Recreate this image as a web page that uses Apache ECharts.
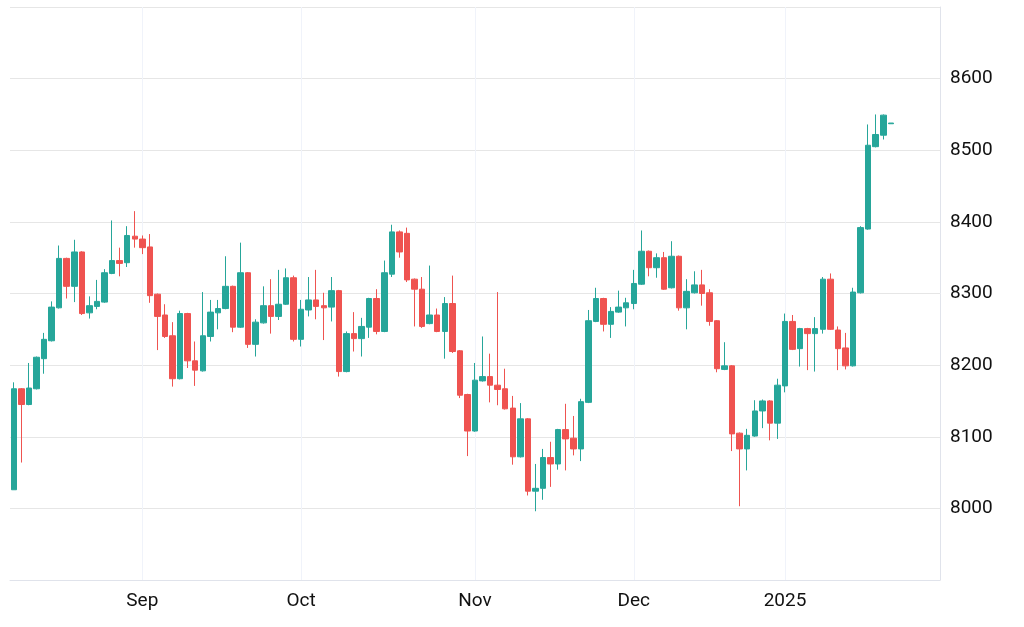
<!DOCTYPE html>
<html lang="en">
<head>
    <meta charset="UTF-8">
    <title>Candles</title>
    <script src="https://cdn.jsdelivr.net/npm/echarts@6/dist/echarts.min.js"></script>
    <style>
        body { margin: 0; background: #fff; }
        #chart { width: 1024px; height: 627px; }
    </style>
</head>
<body>
<div id="chart"></div>
<script>
    // trading days, grouped by month
    var monthKeys = ['2024-08', '2024-09', '2024-10', '2024-11', '2024-12', '2025-01'];
    var monthDays = [
        [7, 8, 9, 12, 13, 14, 15, 16, 19, 20, 21, 22, 23, 27, 28, 29, 30],
        [2, 3, 4, 5, 6, 9, 10, 11, 12, 13, 16, 17, 18, 19, 20, 23, 24, 25, 26, 27, 30],
        [1, 2, 3, 4, 7, 8, 9, 10, 11, 14, 15, 16, 17, 18, 21, 22, 23, 24, 25, 28, 29, 30, 31],
        [1, 4, 5, 6, 7, 8, 11, 12, 13, 14, 15, 18, 19, 20, 21, 22, 25, 26, 27, 28, 29],
        [2, 3, 4, 5, 6, 9, 10, 11, 12, 13, 16, 17, 18, 19, 20, 23, 24, 27, 30, 31],
        [2, 3, 6, 7, 8, 9, 10, 13, 14, 15, 16, 17, 20, 21, 22, 23, 24, 27, 28, 29, 30]
    ];
    var monthLabels = {'2024-09': 'Sep', '2024-10': 'Oct', '2024-11': 'Nov', '2024-12': 'Dec', '2025-01': '2025'};

    // [open, close, low, high]
    var ohlc = [
        [8026, 8167, 8026, 8176], [8167, 8145, 8064, 8168], [8145, 8168, 8144, 8203], [8167, 8211, 8166, 8212],
        [8209, 8236, 8188, 8245], [8234, 8281, 8233, 8289], [8280, 8349, 8279, 8367], [8349, 8310, 8293, 8350],
        [8310, 8358, 8288, 8375], [8358, 8272, 8270, 8359], [8273, 8283, 8265, 8296], [8282, 8289, 8278, 8319],
        [8288, 8329, 8287, 8334], [8328, 8346, 8327, 8402], [8346, 8342, 8324, 8364], [8343, 8381, 8337, 8394],
        [8380, 8376, 8364, 8415], [8376, 8364, 8355, 8381], [8365, 8297, 8287, 8383], [8299, 8268, 8221, 8300],
        [8270, 8240, 8238, 8285], [8241, 8181, 8170, 8260], [8181, 8272, 8180, 8276], [8272, 8206, 8196, 8273],
        [8206, 8193, 8171, 8233], [8192, 8241, 8191, 8302], [8240, 8274, 8233, 8291], [8273, 8279, 8250, 8291],
        [8279, 8310, 8278, 8352], [8310, 8253, 8246, 8311], [8253, 8329, 8252, 8371], [8329, 8229, 8224, 8330],
        [8229, 8260, 8212, 8264], [8259, 8283, 8258, 8310], [8283, 8268, 8244, 8320], [8268, 8285, 8263, 8333],
        [8285, 8322, 8284, 8335], [8322, 8236, 8233, 8325], [8236, 8278, 8226, 8291], [8277, 8291, 8268, 8323],
        [8291, 8282, 8264, 8333], [8283, 8280, 8235, 8301], [8281, 8304, 8261, 8323], [8304, 8191, 8184, 8305],
        [8191, 8244, 8190, 8247], [8244, 8237, 8219, 8274], [8237, 8254, 8212, 8266], [8253, 8293, 8238, 8294],
        [8293, 8247, 8243, 8306], [8247, 8329, 8246, 8346], [8327, 8386, 8323, 8396], [8386, 8358, 8350, 8388],
        [8384, 8319, 8316, 8392], [8320, 8306, 8254, 8321], [8306, 8254, 8252, 8323], [8258, 8270, 8257, 8339],
        [8270, 8247, 8246, 8279], [8247, 8286, 8209, 8295], [8286, 8219, 8217, 8325], [8220, 8158, 8154, 8221],
        [8159, 8108, 8073, 8160], [8108, 8179, 8107, 8203], [8178, 8184, 8177, 8240], [8184, 8172, 8148, 8216],
        [8172, 8166, 8144, 8302], [8167, 8139, 8138, 8195], [8140, 8072, 8061, 8157], [8072, 8125, 8071, 8147],
        [8125, 8024, 8018, 8126], [8024, 8028, 7996, 8062], [8028, 8071, 8012, 8083], [8071, 8062, 8030, 8093],
        [8062, 8110, 8054, 8111], [8110, 8097, 8053, 8146], [8098, 8083, 8074, 8129], [8083, 8149, 8066, 8153],
        [8148, 8262, 8147, 8277], [8261, 8293, 8260, 8308], [8293, 8257, 8247, 8294], [8257, 8275, 8238, 8281],
        [8274, 8281, 8273, 8304], [8280, 8287, 8254, 8294], [8286, 8314, 8278, 8333], [8313, 8359, 8312, 8388],
        [8359, 8336, 8324, 8360], [8336, 8350, 8322, 8356], [8350, 8306, 8305, 8358], [8308, 8352, 8307, 8373],
        [8352, 8280, 8276, 8353], [8280, 8303, 8250, 8320], [8301, 8312, 8300, 8331], [8312, 8300, 8283, 8333],
        [8301, 8261, 8255, 8306], [8262, 8195, 8190, 8263], [8194, 8199, 8193, 8232], [8199, 8104, 8080, 8200],
        [8105, 8083, 8003, 8106], [8083, 8102, 8053, 8111], [8101, 8136, 8100, 8151], [8136, 8150, 8112, 8152],
        [8150, 8119, 8095, 8151], [8119, 8172, 8097, 8181], [8171, 8261, 8162, 8272], [8261, 8222, 8221, 8270],
        [8223, 8251, 8198, 8252], [8251, 8244, 8193, 8252], [8244, 8251, 8191, 8267], [8250, 8320, 8244, 8323],
        [8320, 8250, 8249, 8328], [8249, 8223, 8193, 8254], [8224, 8199, 8194, 8245], [8199, 8302, 8198, 8308],
        [8301, 8392, 8300, 8394], [8390, 8507, 8389, 8536], [8505, 8522, 8504, 8550], [8521, 8549, 8515, 8550],
        [8537, 8538, 8537, 8538]
    ];

    var upColor = '#26a69a';
    var downColor = '#ef5350';

    var dates = [];
    var firstOfMonth = {};
    for (var m = 0; m < monthKeys.length; m++) {
        for (var d = 0; d < monthDays[m].length; d++) {
            var day = monthDays[m][d];
            var key = monthKeys[m] + '-' + (day < 10 ? '0' + day : day);
            if (d === 0 && monthLabels[monthKeys[m]]) {
                firstOfMonth[dates.length] = monthLabels[monthKeys[m]];
            }
            dates.push(key);
        }
    }

    function isMonthStart(index) {
        return firstOfMonth[index] !== undefined;
    }

    var myChart = echarts.init(document.getElementById('chart'));
    var option = {
        animation: false,
        backgroundColor: '#ffffff',
        grid: {
            left: 10,
            right: 84,
            top: 7,
            bottom: 47
        },
        xAxis: {
            type: 'category',
            data: dates,
            boundaryGap: true,
            axisLine: {show: true, lineStyle: {color: '#e0e3eb', width: 1}},
            axisTick: {show: false},
            axisLabel: {
                interval: function (index) { return isMonthStart(index); },
                formatter: function (value, index) { return firstOfMonth[index] || ''; },
                color: '#111111',
                fontSize: 19,
                fontFamily: 'Roboto, sans-serif',
                margin: 12
            },
            splitLine: {
                show: true,
                alignWithLabel: true,
                interval: function (index) { return isMonthStart(index); },
                lineStyle: {color: '#f0f3fa', width: 1}
            }
        },
        yAxis: {
            type: 'value',
            position: 'right',
            scale: true,
            min: 7900,
            max: 8700,
            interval: 100,
            axisLine: {show: true, lineStyle: {color: '#e0e3eb', width: 1}},
            axisTick: {show: false},
            axisLabel: {
                color: '#111111',
                fontSize: 19,
                fontFamily: 'Roboto, sans-serif',
                margin: 10,
                showMinLabel: false,
                showMaxLabel: false,
                formatter: function (v) { return String(v); }
            },
            splitLine: {show: true, lineStyle: {color: '#e6e6e6', width: 1}}
        },
        series: [
            {
                type: 'candlestick',
                data: ohlc,
                barWidth: 6,
                itemStyle: {
                    color: upColor,
                    color0: downColor,
                    borderColor: upColor,
                    borderColor0: downColor,
                    borderWidth: 1
                }
            }
        ]
    };
    myChart.setOption(option);
</script>
</body>
</html>
